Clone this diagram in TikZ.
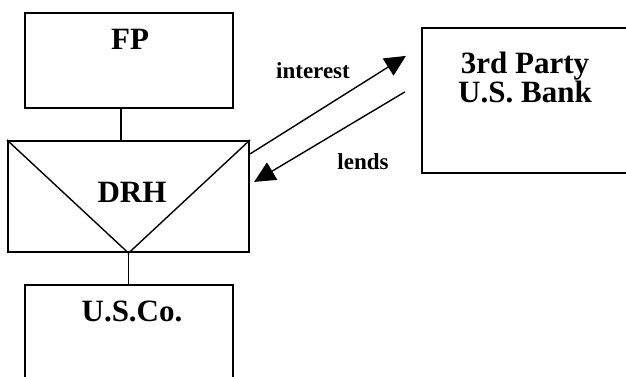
\documentclass[tikz,border=0pt]{standalone}
\usepackage{fontspec}
\setmainfont{Liberation Serif}
\usetikzlibrary{arrows.meta,calc}

\tikzset{
  entity/.style={draw=black, line width=2.2pt, rectangle, inner sep=0pt},
  title/.style={font=\fontsize{31}{34}\selectfont\bfseries, anchor=base, inner sep=0pt},
  flowlabel/.style={font=\fontsize{23}{26}\selectfont\bfseries, anchor=base, inner sep=0pt},
  link/.style={line width=1.4pt},
  flow/.style={line width=1.4pt, -{Triangle[length=21pt,width=20pt]}}
}

\begin{document}
\begin{tikzpicture}[x=1pt, y=-1pt]
  \useasboundingbox (0,0) rectangle (626,377);
  \clip (0,0) rectangle (626,377);

  % entity boxes (U.S.Co. and the bank run past the page edge)
  \node[entity, minimum width=208pt, minimum height=95pt]  (fp)   at (129,60.5)  {};
  \node[entity, minimum width=241pt, minimum height=111pt] (drh)  at (128.5,196.5) {};
  \node[entity, minimum width=208pt, minimum height=130pt] (usco) at (129,350)   {};
  \node[entity, minimum width=240pt, minimum height=145pt] (bank) at (542,100.5) {};

  % hybrid entity mark inside DRH
  \coordinate (vtip) at (drh.south);
  \draw[link] (drh.north west) -- (vtip) -- (drh.north east);

  % ownership links
  \coordinate (fpfoot) at ($(fp.south)+(-8,0)$);
  \draw[link] (fpfoot) -- (fpfoot |- drh.north);
  \draw[link] (vtip) -- (vtip |- usco.north);

  % titles
  \node[title] (fpt)   at (130,50)    {FP};
  \node[title] (drht)  at (132,202)   {DRH};
  \node[title] (uscot) at (132,321.5) {U.S.Co.};
  \node[title] (bankt1) at (525,74)   {3rd Party};
  \node[title] (bankt2) at (525,102.5) {U.S. Bank};

  % loan flows
  \coordinate (intA)  at ($(drh.north east)+(0,14)$);
  \coordinate (intB)  at ($(bank.north west)+(-15,29)$);
  \coordinate (lendA) at ($(bank.north west)+(-16,65)$);
  \coordinate (lendB) at ($(drh.north east)+(4,42)$);
  \draw[flow] (intA) -- (intB);
  \draw[flow] (lendA) -- (lendB);

  \node[flowlabel] (intl)  at (313,79)  {interest};
  \node[flowlabel] (lendl) at (363,169) {lends};
\end{tikzpicture}
\end{document}
